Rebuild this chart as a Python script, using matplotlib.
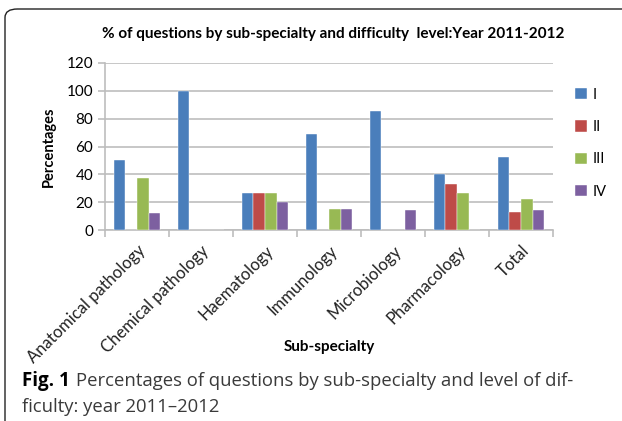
import matplotlib.pyplot as plt
import numpy as np
from matplotlib.patches import FancyBboxPatch

# data
categories = ["Anatomical pathology", "Chemical pathology", "Haematology",
              "Immunology", "Microbiology", "Pharmacology", "Total"]
levels = ["I", "II", "III", "IV"]
level_I = [50, 100, 26.7, 69.2, 85.7, 40, 52.4]
level_II = [0, 0, 26.7, 0, 0, 33.3, 12.6]
level_III = [37.5, 0, 26.7, 15.4, 0, 26.7, 22.4]
level_IV = [12.5, 0, 20, 15.4, 14.3, 0, 14.3]
colors = ["#4a7ebb", "#be4b48", "#98b954", "#7d60a0"]

fig = plt.figure(figsize=(6.22, 4.21), dpi=100)
chart_font = "Lato"

# outer chart frame (rounded, runs off the right/bottom of the image)
frame = FancyBboxPatch((5 / 622, -0.2), 1.2, 1.2 - 9 / 421,
                       boxstyle="round,pad=0,rounding_size=0.02",
                       transform=fig.transFigure, fill=False,
                       edgecolor="#222222", linewidth=1.0)
fig.patches.append(frame)

ax = fig.add_axes([105 / 622, 1 - 230 / 421, 448 / 622, 167 / 421])
x = np.arange(len(categories))
w = 0.183
for i, vals in enumerate([level_I, level_II, level_III, level_IV]):
    ax.bar(x + (i - 1.5) * w, vals, w, color=colors[i], label=levels[i],
           edgecolor="white", linewidth=0.3, zorder=3)

ax.set_xlim(-0.5, len(categories) - 0.5)
ax.set_ylim(0, 120)
ax.set_yticks(range(0, 121, 20))
ax.yaxis.grid(True, color="#bdbdbd", linewidth=1.2, zorder=0)
for s in ["top", "right"]:
    ax.spines[s].set_visible(False)
ax.spines["left"].set_color("#bdbdbd")
ax.spines["bottom"].set_color("#bdbdbd")
ax.spines["left"].set_linewidth(1.2)
ax.spines["bottom"].set_linewidth(1.2)
ax.tick_params(axis="y", length=5, color="#bdbdbd", width=1.2, labelsize=11)
for lab in ax.get_yticklabels():
    lab.set_family(chart_font)

# category labels at centres, tick marks at boundaries
ax.set_xticks(x)
ax.set_xticklabels(categories, rotation=45, ha="right", rotation_mode="anchor",
                   fontsize=12, family=chart_font, color="#222222")
ax.tick_params(axis="x", length=0, pad=9)
ax.set_xticks(np.arange(-0.5, len(categories), 1), minor=True)
ax.tick_params(axis="x", which="minor", length=5, color="#bdbdbd", width=1.2)

ax.set_ylabel("Percentages", fontsize=10.5, fontweight="bold", family=chart_font)
ax.set_xlabel("Sub-specialty", fontsize=11, fontweight="bold", family=chart_font)
ax.yaxis.set_label_coords(-0.11, 0.5)
ax.xaxis.set_label_coords(0.5, (230 - 347) / 167)
ax.xaxis.label.set_va("center")

fig.text(333 / 622, 1 - 34 / 421,
         "% of questions by sub-specialty and difficulty  level:Year 2011-2012",
         ha="center", va="center", fontsize=11, fontweight="bold",
         family=chart_font)

leg = ax.legend(loc="upper left", bbox_to_anchor=(1.02, 0.93), frameon=False,
                prop={"family": chart_font, "size": 10.5}, handlelength=0.8,
                handleheight=0.8, labelspacing=1.25, handletextpad=0.4)

# caption
fig.text(22 / 622, 1 - 381 / 421, "Fig. 1", ha="left", va="center",
         fontsize=13.5, fontweight="bold", family="Open Sans")
fig.text(76 / 622, 1 - 381 / 421,
         "Percentages of questions by sub-specialty and level of dif-",
         ha="left", va="center", fontsize=13.3, family="Open Sans",
         color="#3a3a3a")
fig.text(22 / 622, 1 - 407 / 421, "ficulty: year 2011\u20132012",
         ha="left", va="center", fontsize=13.3, family="Open Sans",
         color="#3a3a3a")

fig.savefig("out.png", dpi=100)
